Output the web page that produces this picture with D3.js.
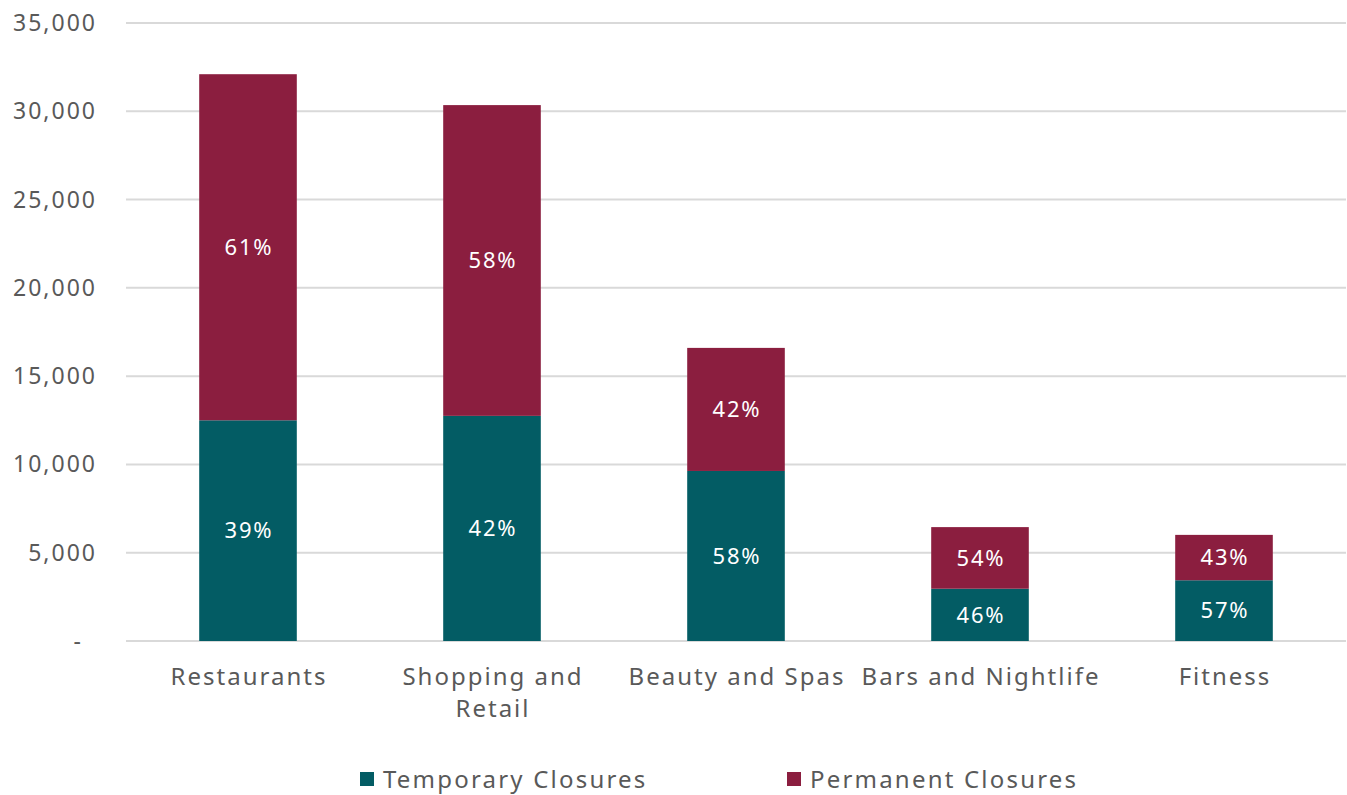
<!DOCTYPE html>
<html><head><meta charset="utf-8">
<script src="https://cdn.jsdelivr.net/npm/d3@7"></script>
<style>body{margin:0;background:#fff;} text{font-family:"Noto Sans",sans-serif;}</style>
</head><body>
<svg id="c" width="1347" height="795"></svg>
<script>
const categories = ["Restaurants", "Shopping and Retail", "Beauty and Spas", "Bars and Nightlife", "Fitness"];
const categoryLines = [["Restaurants"], ["Shopping and", "Retail"], ["Beauty and Spas"], ["Bars and Nightlife"], ["Fitness"]];
const temporary = [12500, 12750, 9630, 2960, 3440];
const permanent = [19600, 17600, 6970, 3490, 2570];
const tempLabels = ["39%", "42%", "58%", "46%", "57%"];
const permLabels = ["61%", "58%", "42%", "54%", "43%"];
const yTicks = [0, 5000, 10000, 15000, 20000, 25000, 30000, 35000];
const seriesNames = ["Temporary Closures", "Permanent Closures"];
const colors = ["#035c64", "#8b1e3f"];

const svg = d3.select("#c");
const L = 126, R = 1346, T = 23, B = 641;
const x = d3.scaleBand().domain(categories).range([L, R]).paddingInner(0.6).paddingOuter(0.3);
const y = d3.scaleLinear().domain([0, 35000]).range([B, T]);
const txt = "#595959";

// gridlines
svg.append("g").selectAll("line").data(yTicks).join("line")
  .attr("x1", L).attr("x2", R).attr("y1", d => y(d)).attr("y2", d => y(d))
  .attr("stroke", "#d9d9d9").attr("stroke-width", 2);

// y axis labels
const fmt = d3.format(",");
svg.append("g").selectAll("text").data(yTicks).join("text")
  .attr("x", d => d === 0 ? 83 : 97).attr("y", d => y(d)).attr("dy", "0.35em")
  .attr("text-anchor", "end").attr("fill", txt).attr("font-size", 23)
  .attr("letter-spacing", 2)
  .text(d => d === 0 ? "-" : fmt(d));

const stackData = categories.map((c, i) => ({cat: c, t: temporary[i], p: permanent[i], tl: tempLabels[i], pl: permLabels[i]}));
const stack = d3.stack().keys(["t", "p"])(stackData);

const g = svg.append("g");
stack.forEach((layer, li) => {
  g.append("g").selectAll("rect").data(layer).join("rect")
    .attr("x", d => x(d.data.cat)).attr("width", x.bandwidth())
    .attr("y", d => y(d[1])).attr("height", d => y(d[0]) - y(d[1]))
    .attr("fill", colors[li]);
  g.append("g").selectAll("text").data(layer).join("text")
    .attr("x", d => x(d.data.cat) + x.bandwidth() / 2 + 1)
    .attr("y", d => (y(d[0]) + y(d[1])) / 2).attr("dy", "0.35em")
    .attr("text-anchor", "middle").attr("fill", "#fff").attr("font-size", 22)
    .attr("letter-spacing", 1.8)
    .text(d => li === 0 ? d.data.tl : d.data.pl);
});

// x labels
categories.forEach((c, i) => {
  const t = svg.append("text").attr("text-anchor", "middle").attr("fill", txt)
    .attr("font-size", 24).attr("letter-spacing", 2)
    .attr("x", x(c) + x.bandwidth() / 2 + 1).attr("y", 685);
  categoryLines[i].forEach((ln, j) => t.append("tspan")
    .attr("x", x(c) + x.bandwidth() / 2 + 1).attr("dy", j === 0 ? 0 : 32).text(ln));
});

// legend
const legX = [360, 787];
seriesNames.forEach((s, i) => {
  svg.append("rect").attr("x", legX[i]).attr("y", 772).attr("width", 14).attr("height", 14).attr("fill", colors[i]);
  svg.append("text").attr("x", legX[i] + 23).attr("y", 788).attr("fill", txt)
    .attr("font-size", 24).attr("letter-spacing", 2.2).text(s);
});
</script>
</body></html>
